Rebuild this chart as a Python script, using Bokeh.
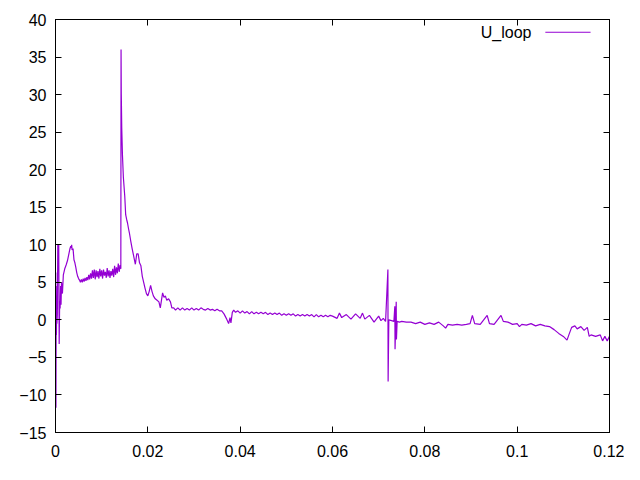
from bokeh.plotting import figure
from bokeh.models import Range1d, LinearAxis, FixedTicker, CustomJSTickFormatter, Label, Arrow
from bokeh.embed import file_html
from bokeh.resources import INLINE

# ---- data ----
t_start = [0.00000, 0.00005, 0.00010, 0.00015, 0.00020, 0.00025, 0.00030, 0.00040,
           0.00050, 0.00060, 0.00070, 0.00080, 0.00090, 0.00100, 0.00110, 0.00120,
           0.0013, 0.0015, 0.0017, 0.0020, 0.0023, 0.0026, 0.0029, 0.0031, 0.0033,
           0.0034, 0.0035, 0.0036, 0.0038, 0.0040, 0.0042, 0.0044, 0.0046, 0.0048, 0.0050]
u_start = [0.0, 6.3, -11.7, 4.5, -2.0, 1.2, -0.5, 0.8,
           10.0, 10.0, 10.0, -3.2, 2.5, 1.5, 4.5, 2.0,
           5.0, 3.5, 6.0, 6.8, 7.3, 7.9, 8.8, 9.4, 9.8,
           9.6, 10.0, 9.3, 9.5, 8.0, 7.6, 7.0, 6.3, 5.8, 5.5]

t_plateau = [0.0052, 0.0054, 0.0056, 0.0058, 0.0060, 0.0062, 0.0064, 0.0066, 0.0068, 0.0070,
             0.0072, 0.0074, 0.0076, 0.0078, 0.0080, 0.0082, 0.0084, 0.0086, 0.0088, 0.0090,
             0.0092, 0.0094, 0.0096, 0.0098, 0.0100, 0.0102, 0.0104, 0.0106, 0.0108, 0.0110,
             0.0112, 0.0114, 0.0116, 0.0118, 0.0120, 0.0122, 0.0124, 0.0126, 0.0128, 0.0130,
             0.0132, 0.0134, 0.0136, 0.0138, 0.0140, 0.01415]
u_plateau = [5.3, 5.0, 5.4, 5.0, 5.5, 5.1, 5.6, 5.2, 5.7, 5.3,
             6.0, 5.4, 6.2, 5.5, 6.6, 5.6, 6.7, 5.4, 6.6, 5.7,
             6.5, 5.5, 6.8, 5.8, 6.6, 5.5, 6.7, 5.9, 6.4, 5.6,
             6.9, 5.8, 6.6, 5.6, 6.5, 5.9, 6.8, 5.7, 7.2, 6.0,
             7.0, 6.2, 7.5, 6.4, 7.3, 6.8]

t_decay = [0.0142, 0.01425, 0.01435, 0.0145, 0.0147, 0.0150, 0.0152, 0.0154, 0.0156, 0.0158,
           0.0160, 0.0163, 0.0166, 0.0170, 0.0173, 0.0176, 0.0179, 0.0182, 0.0185, 0.0188,
           0.0191, 0.0194, 0.0197, 0.0200, 0.0203, 0.0206, 0.0209, 0.0212, 0.0216, 0.0220,
           0.0224, 0.0227, 0.0229, 0.0232, 0.0235, 0.0238, 0.0241, 0.0245, 0.0249, 0.0252,
           0.0256, 0.0260, 0.0265, 0.0270, 0.0275, 0.0280]
u_decay = [36.0, 30.0, 25.5, 22.0, 19.0, 16.5, 14.0, 13.4, 12.9, 12.2,
           11.6, 10.5, 9.5, 8.3, 7.4, 8.8, 8.8, 7.6, 7.2, 5.8,
           5.0, 4.2, 3.5, 3.2, 3.8, 4.6, 3.8, 3.2, 2.8, 2.6,
           2.4, 1.6, 2.4, 3.6, 3.0, 3.2, 2.6, 2.8, 2.4, 1.6,
           1.6, 1.3, 1.6, 1.3, 1.6, 1.3]

t_mid = [0.0285, 0.0290, 0.0295, 0.0300, 0.0305, 0.0310, 0.0315, 0.0320, 0.0325, 0.0330,
         0.0335, 0.0340, 0.0345, 0.0350, 0.0355, 0.0360, 0.0365, 0.0370, 0.0375, 0.0378,
         0.0380, 0.0383, 0.0386, 0.0390, 0.0395, 0.0400, 0.0405, 0.0410, 0.0415, 0.0420,
         0.0425, 0.0430, 0.0435, 0.0440, 0.0445, 0.0450, 0.0455, 0.0460, 0.0465, 0.0470,
         0.0475, 0.0480, 0.0485, 0.0490, 0.0495, 0.0500, 0.0505, 0.0510, 0.0515, 0.0520,
         0.0525, 0.0530, 0.0535, 0.0540, 0.0545, 0.0550, 0.0555, 0.0560, 0.0565, 0.0570,
         0.0575, 0.0580, 0.0585, 0.0590, 0.0595, 0.0600]
u_mid = [1.5, 1.3, 1.6, 1.3, 1.5, 1.3, 1.6, 1.4, 1.3, 1.5,
         1.3, 1.4, 1.2, 1.4, 1.2, 1.2, 0.8, 0.2, -0.5, 0.3,
         -0.4, 1.0, 1.3, 1.0, 1.2, 0.9, 1.2, 0.9, 1.1, 0.8,
         1.1, 0.8, 1.0, 0.8, 1.0, 0.8, 1.0, 0.7, 0.9, 0.7,
         0.9, 0.7, 0.9, 0.6, 0.8, 0.6, 0.8, 0.6, 0.8, 0.5,
         0.7, 0.5, 0.7, 0.5, 0.7, 0.5, 0.7, 0.4, 0.7, 0.4,
         0.6, 0.4, 0.6, 0.4, 0.6, 0.5]

t_late = [0.0610, 0.0615, 0.0620, 0.0630, 0.0640, 0.0650, 0.0660, 0.0665, 0.0670, 0.0680,
          0.0690, 0.0700, 0.0705, 0.0710, 0.0715, 0.0720, 0.07205, 0.0722, 0.0728, 0.0733,
          0.0735, 0.07355, 0.0737, 0.0738, 0.07385, 0.0740, 0.0745, 0.0750, 0.0760, 0.0770,
          0.0780, 0.0790, 0.0800, 0.0810, 0.0820, 0.0830, 0.0840, 0.0845, 0.0850, 0.0860,
          0.0870, 0.0880, 0.0890, 0.0898, 0.0903, 0.0908, 0.0920, 0.0935, 0.0940, 0.0950,
          0.0965, 0.0970, 0.0980, 0.0990, 0.1000, 0.1005, 0.1010, 0.1020, 0.1030, 0.1040,
          0.1050, 0.1060, 0.1070, 0.1080, 0.1090, 0.1100, 0.1108, 0.1112, 0.1118, 0.1125,
          0.1130, 0.1138, 0.1145, 0.1152, 0.1156, 0.1160, 0.1170, 0.1180, 0.1185, 0.1190,
          0.1195, 0.1200]
u_late = [0.2, 0.9, 0.3, 0.7, 0.1, 0.8, 0.2, 0.9, 0.1, 0.6,
          -0.3, 0.5, -0.1, 0.2, -0.2, 6.7, -8.2, 0.0, -0.1, -0.2,
          1.8, -3.9, -0.3, 2.4, -2.6, -0.2, -0.3, -0.2, -0.3, -0.3,
          -0.5, -0.3, -0.6, -0.4, -0.6, -0.3, -0.8, -1.1, -0.6, -0.7,
          -0.6, -0.7, -0.6, -0.5, 0.6, -0.5, -0.6, 0.6, -0.5, -0.6,
          0.6, -0.2, -0.3, -0.6, -0.5, -0.9, -0.6, -0.7, -0.5, -0.8,
          -0.6, -0.8, -0.9, -1.3, -1.8, -2.2, -2.7, -2.0, -1.0, -0.8,
          -1.2, -0.9, -1.4, -1.0, -2.2, -2.0, -2.2, -2.0, -2.8, -2.2,
          -2.8, -2.2]

t_values = t_start + t_plateau + t_decay + t_mid + t_late
u_values = u_start + u_plateau + u_decay + u_mid + u_late

x_ticks = [0, 0.02, 0.04, 0.06, 0.08, 0.1, 0.12]
y_ticks = [-15, -10, -5, 0, 5, 10, 15, 20, 25, 30, 35, 40]
series_name = "U_loop"
line_color = "#9400D3"

FONT = "Liberation Sans"
FSIZE = "16px"

p = figure(width=624, height=464, output_backend="svg", toolbar_location=None,
           x_range=Range1d(0, 0.12), y_range=Range1d(-15, 40),
           min_border_left=55, min_border_right=15, min_border_top=19, min_border_bottom=32)
p.xgrid.visible = False
p.ygrid.visible = False
p.outline_line_color = "black"
p.outline_line_width = 1
p.background_fill_color = "white"
p.border_fill_color = "white"

p.line(t_values, u_values, line_color=line_color, line_width=1.2)

fmt = CustomJSTickFormatter(code="return String(parseFloat(tick.toFixed(4)));")

def style(ax, labels=True):
    ax.axis_line_color = "black"
    ax.major_tick_in = 6
    ax.major_tick_out = 0
    ax.minor_tick_line_color = None
    ax.major_tick_line_color = "black"
    ax.major_label_text_font = FONT
    ax.major_label_text_font_size = FSIZE
    ax.major_label_text_color = "black" if labels else None
    ax.major_label_standoff = 9

p.xaxis.ticker = FixedTicker(ticks=x_ticks)
p.xaxis.formatter = fmt
p.yaxis.ticker = FixedTicker(ticks=y_ticks)
style(p.xaxis[0])
style(p.yaxis[0])
p.xaxis[0].major_label_standoff = 12

top = LinearAxis(ticker=FixedTicker(ticks=x_ticks))
right = LinearAxis(ticker=FixedTicker(ticks=y_ticks))
style(top, labels=False)
style(right, labels=False)
top.major_label_text_font_size = "0px"
right.major_label_text_font_size = "0px"
top.major_label_standoff = 0
right.major_label_standoff = 0
p.add_layout(top, "above")
p.add_layout(right, "right")

# legend (gnuplot style: text then sample line)
p.add_layout(Label(x=0.1031, y=38.3, text=series_name, text_align="right",
                   text_baseline="middle", text_font=FONT, text_font_size=FSIZE,
                   text_color="black"))
p.add_layout(Arrow(x_start=0.1061, y_start=38.3, x_end=0.1159, y_end=38.3,
                   start=None, end=None, line_color=line_color, line_width=1))

open("out.html", "w").write(file_html(p, INLINE))
